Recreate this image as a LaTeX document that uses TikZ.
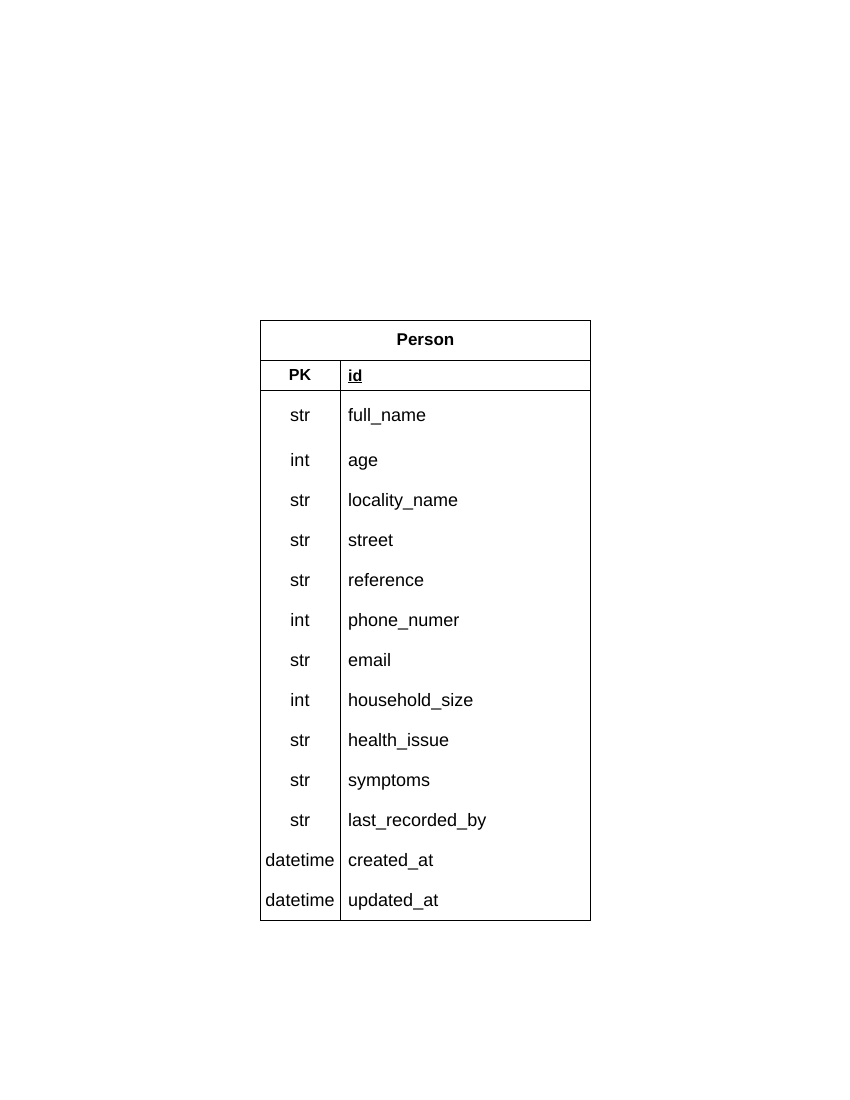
\documentclass[tikz,border=0pt]{standalone}
\usepackage{fontspec}
\setmainfont{Liberation Sans}
\begin{document}
\begin{tikzpicture}[x=1pt,y=-1pt,
  tline/.style={draw=black,line width=1pt},
  title/.style={font=\fontsize{17}{20}\selectfont\bfseries,inner sep=0pt},
  hdr/.style={font=\fontsize{16}{19}\selectfont\bfseries,inner sep=0pt},
  typ/.style={font=\fontsize{18}{21}\selectfont,inner sep=0pt,anchor=center},
  fld/.style={font=\fontsize{18}{21}\selectfont,inner sep=0pt,anchor=west}]
\useasboundingbox (0,0) rectangle (850,1100);
\coordinate (tl) at (260.5,320.5);
\coordinate (br) at (590.5,920.5);
\draw[tline] (tl) rectangle (br);
\coordinate (h1l) at (260.5,360.5);
\coordinate (h1r) at (590.5,360.5);
\coordinate (h2l) at (260.5,390.5);
\coordinate (h2r) at (590.5,390.5);
\coordinate (vt) at (340.5,360.5);
\coordinate (vb) at (340.5,920.5);
\draw[tline] (h1l) -- (h1r);
\draw[tline] (h2l) -- (h2r);
\draw[tline] (vt) -- (vb);
\node[title] (ttl) at (425.5,341) {\vphantom{Hg}Person};
\node[hdr] (pk) at (300,377) {\vphantom{Hg}PK};
\node[hdr,anchor=west] (idf) at (348,377) {\vphantom{Hg}\underline{id}};
\foreach \t/\f/\y [count=\i] in {str/full\_name/417, int/age/462, str/locality\_name/502, str/street/542, str/reference/582, int/phone\_numer/622, str/email/662, int/household\_size/702, str/health\_issue/742, str/symptoms/782, str/last\_recorded\_by/822, datetime/created\_at/862, datetime/updated\_at/902}{
  \node[typ] (t\i) at (300,\y) {\vphantom{Hg}\t};
  \node[fld] (f\i) at (348,\y) {\vphantom{Hg}\f};
}
\end{tikzpicture}
\end{document}
